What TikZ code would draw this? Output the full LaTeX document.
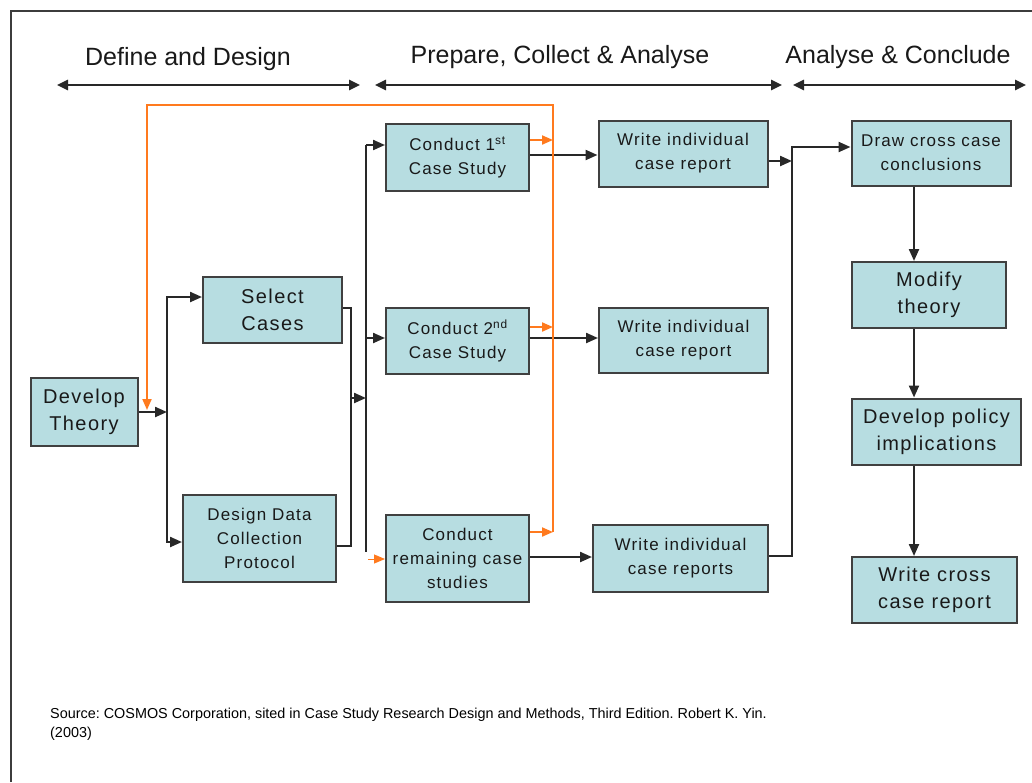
\documentclass[tikz,border=0pt]{standalone}
\usepackage{fontspec}
\setmainfont{Liberation Sans}
\newfontfamily\boxfont[LetterSpace=7]{Liberation Sans}
\usetikzlibrary{arrows.meta,calc}
\definecolor{boxfill}{RGB}{183,221,225}
\definecolor{boxline}{RGB}{64,64,64}
\definecolor{wirec}{RGB}{40,40,40}
\definecolor{loopc}{RGB}{255,122,30}
\definecolor{framec}{RGB}{60,60,60}
\frenchspacing

\begin{document}
\begin{tikzpicture}[x=1pt,y=-1pt,
  stage/.style={draw=boxline,line width=2pt,fill=boxfill,inner sep=0pt,align=center,
    text=black!90,font=\boxfont\fontsize{17}{24}\selectfont},
  bigstage/.style={stage,font=\boxfont\fontsize{20}{27}\selectfont},
  wire/.style={draw=wirec,line width=2.2pt},
  tip/.style={-{Triangle[length=12pt,width=10pt]}},
  loopline/.style={draw=loopc,line width=2pt},
  looptip/.style={-{Triangle[length=11pt,width=9pt,fill=loopc]}},
  phase/.style={draw=wirec,line width=2.5pt,
    {Triangle[length=11pt,width=10pt]}-{Triangle[length=11pt,width=10pt]}},
  phaselabel/.style={font=\fontsize{25}{30}\selectfont,inner sep=0pt,text=black!90}
]
\useasboundingbox (0,0) rectangle (1032,782);

% outer frame (only left and top edges fall inside the page)
\draw[framec,line width=2pt] (11,782) -- (11,11) -- (1032,11);

% phase headers
\node[phaselabel] (ph1) at (188,59) {Define and Design};
\node[phaselabel] (ph2) at (560,57) {Prepare, Collect \& Analyse};
\node[phaselabel] (ph3) at (898,57) {Analyse \& Conclude};
\coordinate (a1l) at (57,85);  \coordinate (a1r) at (360,85);
\coordinate (a2l) at (375,85); \coordinate (a2r) at (782,85);
\coordinate (a3l) at (793,85); \coordinate (a3r) at (1026,85);
\draw[phase] (a1l) -- (a1r);
\draw[phase] (a2l) -- (a2r);
\draw[phase] (a3l) -- (a3r);

% stages
\node[bigstage,minimum width=107,minimum height=68] (dev) at (84,412) {Develop\\Theory};
\node[bigstage,minimum width=139,minimum height=66] (sel) at (272.5,310) {Select\\Cases};
\node[stage,minimum width=153,minimum height=87] (des) at (259.5,538.5) {Design Data\\Collection\\Protocol};
\node[stage,minimum width=143,minimum height=67] (c1) at (457.5,157.5) {Conduct 1\textsuperscript{st}\\Case Study};
\node[stage,minimum width=143,minimum height=66] (c2) at (457.5,341) {Conduct 2\textsuperscript{nd}\\Case Study};
\node[stage,minimum width=143,minimum height=87] (c3) at (457.5,558.5) {Conduct\\remaining case\\studies};
\node[stage,minimum width=169,minimum height=66] (w1) at (683,153.5) {Write individual\\case report};
\node[stage,minimum width=169,minimum height=65] (w2) at (683.5,340.5) {Write individual\\case report};
\node[stage,minimum width=175,minimum height=67] (w3) at (680.5,558) {Write individual\\case reports};
\node[stage,minimum width=159,minimum height=65] (dcc) at (931,153) {Draw cross case\\conclusions};
\node[bigstage,minimum width=154,minimum height=66] (mod) at (929,295) {Modify\\theory};
\node[bigstage,minimum width=169,minimum height=66] (pol) at (936.5,431.5) {Develop policy\\implications};
\node[bigstage,minimum width=165,minimum height=66] (wcr) at (934.5,590) {Write cross\\case report};

% junction points
\coordinate (j1) at (167,412);
\coordinate (m) at (351,398);
\coordinate (k) at (366,398);
\coordinate (k1) at (366,145);
\coordinate (k2) at (366,552);
\coordinate (k3) at (366,338);
\coordinate (k4) at (368,559);
\coordinate (r1) at (792,147);
\coordinate (spine) at (914,0);
\coordinate (orail) at (553,0);
\coordinate (otop) at (553,105);
\coordinate (oleft) at (147,105);
\coordinate (oend) at (147,410);
\coordinate (obot) at (553,532);

% define and design
\draw[wire,tip] (dev.east) -- (j1);
\draw[wire,tip] (j1) |- ($(sel.west)+(0,-13)$);
\draw[wire,tip] (j1) |- ($(des.west)+(0,3.5)$);
\draw[wire] ($(sel.east)+(0,-2)$) -| (m);
\draw[wire] ($(des.east)+(0,7.5)$) -| (m);
\draw[wire,tip] (m) -- (k);

% case studies
\draw[wire] (k1) -- (k2);
\draw[wire,tip] (k1) -- (k1 -| c1.west);
\draw[wire,tip] (k3) -- (k3 -| c2.west);
\draw[loopline,looptip,line width=1pt] (k4) -- (k4 -| c3.west);

\draw[wire,tip] ($(c1.east)+(0,-2.5)$) coordinate (p1) -- (p1 -| w1.west);
\draw[wire,tip] ($(c2.east)+(0,-3)$) coordinate (p2) -- (p2 -| w2.west);
\draw[wire,tip] ($(c3.east)+(0,-1.5)$) coordinate (p3) -- (p3 -| w3.west);

% reports into conclusions
\draw[wire,tip] ($(w1.east)+(0,7.5)$) coordinate (p4) -- (p4 -| r1);
\draw[wire,tip] ($(w3.east)+(0,-2)$) -| (r1) -- (r1 -| dcc.west);

% conclusion chain
\draw[wire,tip] (dcc.south -| spine) -- (mod.north -| spine);
\draw[wire,tip] (mod.south -| spine) -- (pol.north -| spine);
\draw[wire,tip] (pol.south -| spine) -- (wcr.north -| spine);

% feedback loop
\draw[loopline,looptip] ($(c1.east)+(0,-17.5)$) coordinate (q1) -- (q1 -| orail);
\draw[loopline,looptip] ($(c2.east)+(0,-14)$) coordinate (q2) -- (q2 -| orail);
\draw[loopline,looptip] ($(c3.east)+(0,-26.5)$) coordinate (q3) -- (q3 -| orail);
\draw[loopline,looptip] (obot) -- (otop) -- (oleft) -- (oend);

% source note
\node[anchor=north west,align=left,inner sep=0pt,font=\fontsize{14.4}{19}\selectfont] (src) at (50,708)
  {Source: COSMOS Corporation, sited in Case Study Research Design and Methods, Third Edition. Robert K. Yin.\\(2003)};
\end{tikzpicture}
\end{document}
